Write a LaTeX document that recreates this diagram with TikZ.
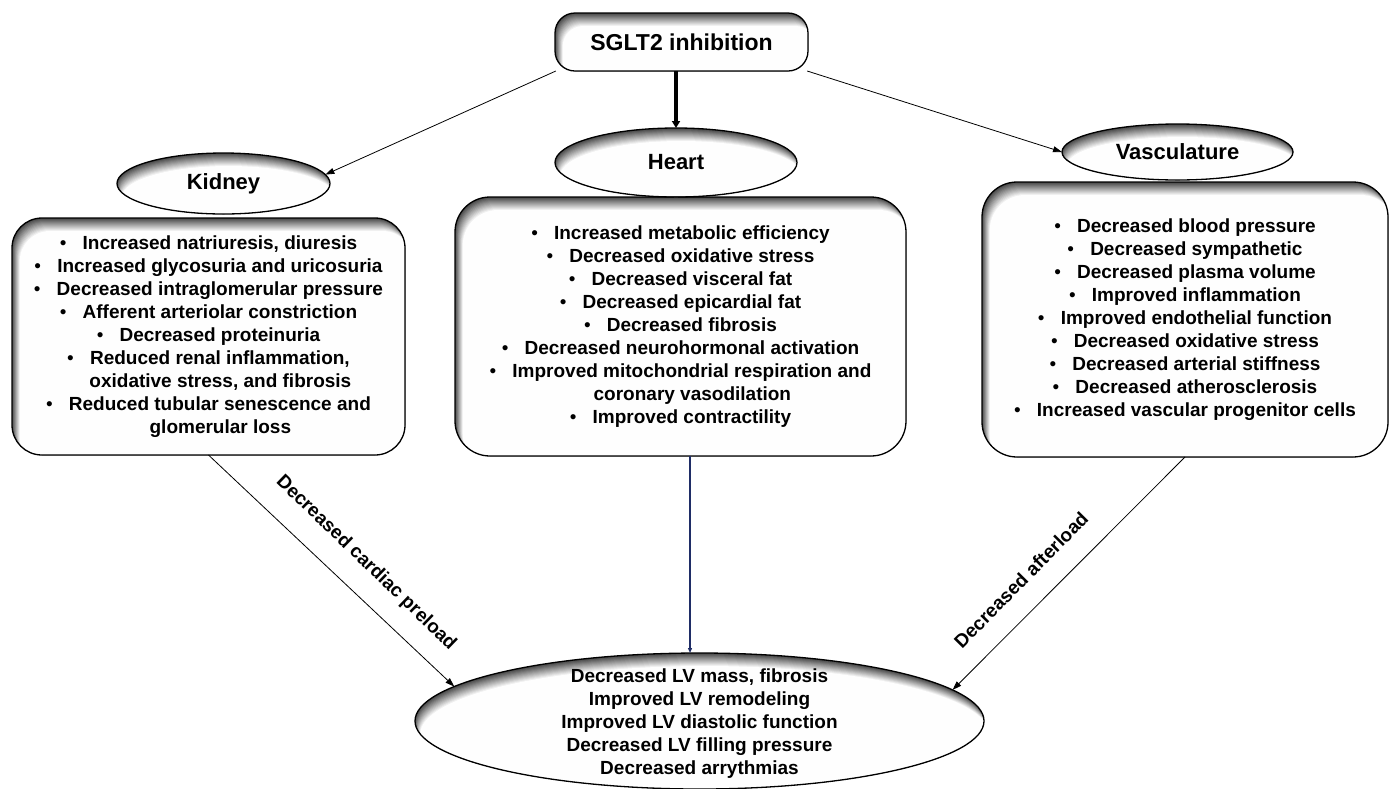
\documentclass[tikz,border=0pt]{standalone}
\usepackage{fontspec}
\setmainfont{Liberation Sans}
\usetikzlibrary{shapes.geometric,arrows.meta,backgrounds}
\definecolor{navy}{HTML}{1F2D66}
\tikzset{
  oval/.style={ellipse, draw, line width=1.3pt, inner sep=0pt, outer sep=0pt,
    font=\bfseries\fontsize{22}{26}\selectfont},
  panel/.style={rectangle, draw, line width=1.3pt, rounded corners=#1, outer sep=0pt,
    align=center, inner sep=0pt, font=\bfseries\fontsize{19}{23}\selectfont},
  arr/.style={line width=0.8pt, -{Triangle[length=9pt,width=6pt]}},
  lbl/.style={font=\bfseries\fontsize{19}{22}\selectfont, inner sep=0pt},
  shadestep/.style={fill=black!#1},
}
\newcommand{\bul}{{\mdseries\textbullet}\hspace{0.85em}}
\newcommand{\cont}{\hspace*{1.25em}}
% inner shadow of a rounded panel: node, corner radius
\newcommand{\panelshade}[2]{%
  \begin{scope}
    \clip[rounded corners=#2] (#1.north west) rectangle (#1.south east);
    \fill[shadestep=72] (#1.north west) rectangle (#1.south east);
    \foreach \k [evaluate=\k as \sv using 72-5.5*\k] in {1,...,13}{
      \fill[shadestep=\sv, rounded corners=#2]
        ([shift={(0.6*\k,\k)}]#1.north west) rectangle ([shift={(0.6*\k,\k)}]#1.south east);
    }
  \end{scope}}
% inner shadow of an oval: node, x radius, y radius
\newcommand{\ovalshade}[3]{%
  \begin{scope}
    \clip (#1.center) ellipse [x radius=#2, y radius=#3];
    \fill[shadestep=72] (#1.center) ellipse [x radius=#2, y radius=#3];
    \foreach \k [evaluate=\k as \sv using 72-5.5*\k] in {1,...,13}{
      \fill[shadestep=\sv] ([shift={(0.4*\k,\k)}]#1.center) ellipse [x radius=#2, y radius=#3];
    }
  \end{scope}}
\begin{document}
\begin{tikzpicture}[x=1pt,y=-1pt]
\useasboundingbox (0,0) rectangle (1392,788);

% panels
\node[panel=30pt, minimum width=393pt, minimum height=237pt] (kbox) at (208.5,336.5)
 {\bul Increased natriuresis, diuresis\\
  \bul Increased glycosuria and uricosuria\\
  \bul Decreased intraglomerular pressure\\
  \bul Afferent arteriolar constriction\\
  \bul Decreased proteinuria\\
  \bul Reduced renal inflammation,\\
  \cont oxidative stress, and fibrosis\\
  \bul Reduced tubular senescence and\\
  \cont glomerular loss};
\node[panel=35pt, minimum width=451pt, minimum height=259pt] (hbox) at (680.5,326.5)
 {\bul Increased metabolic efficiency\\
  \bul Decreased oxidative stress\\
  \bul Decreased visceral fat\\
  \bul Decreased epicardial fat\\
  \bul Decreased fibrosis\\
  \bul Decreased neurohormonal activation\\
  \bul Improved mitochondrial respiration and\\
  \cont coronary vasodilation\\
  \bul Improved contractility};
\node[panel=35pt, minimum width=406pt, minimum height=275pt] (vbox) at (1185,319.5)
 {\bul Decreased blood pressure\\
  \bul Decreased sympathetic\\
  \bul Decreased plasma volume\\
  \bul Improved inflammation\\
  \bul Improved endothelial function\\
  \bul Decreased oxidative stress\\
  \bul Decreased arterial stiffness\\
  \bul Decreased atherosclerosis\\
  \bul Increased vascular progenitor cells};

% top panel
\node[panel=20pt, minimum width=253pt, minimum height=58pt,
      font=\bfseries\fontsize{23}{27}\selectfont] (sglt) at (681.5,42) {SGLT2 inhibition};

% ovals
\node[oval, minimum width=213pt, minimum height=61pt] (kid) at (223.5,183.5) {Kidney};
\node[oval, minimum width=242pt, minimum height=69pt] (heart) at (676,162.5) {Heart};
\node[oval, minimum width=231pt, minimum height=56pt] (vasc) at (1177.5,152) {Vasculature};
\node[oval, minimum width=569pt, minimum height=136pt] (lv) at (699.5,721) {};
\node[align=center, inner sep=0pt, font=\bfseries\fontsize{19}{23}\selectfont] (lvtext) at (699.5,724)
 {Decreased LV mass, fibrosis\\
  Improved LV remodeling\\
  Improved LV diastolic function\\
  Decreased LV filling pressure\\
  Decreased arrythmias};

% inner shadows, behind everything
\begin{pgfonlayer}{background}
  \panelshade{kbox}{30pt}
  \panelshade{hbox}{35pt}
  \panelshade{vbox}{35pt}
  \panelshade{sglt}{20pt}
  \ovalshade{kid}{106.5}{30.5}
  \ovalshade{heart}{121}{34.5}
  \ovalshade{vasc}{115.5}{28}
  \ovalshade{lv}{284.5}{68}
\end{pgfonlayer}

% connectors
\draw[arr] (sglt.193) -- (kid.5);
\draw[arr] (sglt.-13) -- (vasc.west);
\draw[line width=3.5pt, -{Triangle[length=7pt,width=8pt]}] (heart.north |- sglt.south) -- (heart.north);
\draw[arr] (kbox.south) -- (lv.172.6);
\draw[arr] (vbox.south) -- (lv.7.3);
\coordinate (hl) at (690,456);
\draw[navy, line width=2pt, -{Triangle[length=5pt,width=4pt]}] (hl) -- (hl |- lv.north);

% labels
\node[lbl, rotate=-44] (pre) at (366,563) {Decreased cardiac preload};
\node[lbl, rotate=45.4] (aft) at (1021,580) {Decreased afterload};
\end{tikzpicture}
\end{document}
